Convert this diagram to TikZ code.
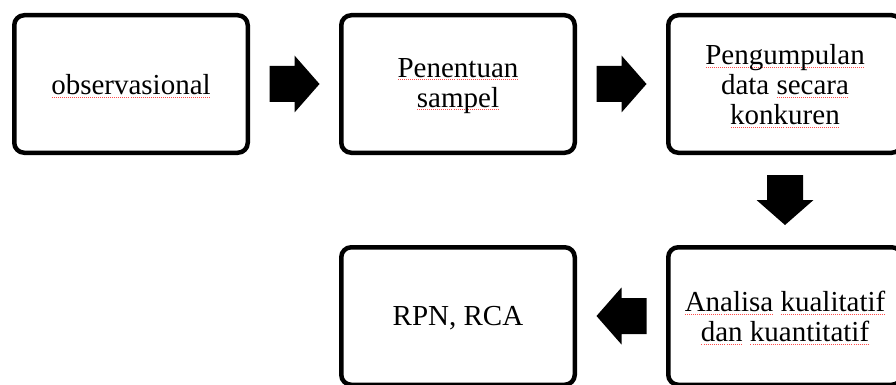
\documentclass[tikz,border=0pt]{standalone}
\usepackage{fontspec}
\setmainfont{Liberation Serif}
\usetikzlibrary{calc}
\newsavebox\sqbox
\newcommand\sqw[1]{\leavevmode\sbox\sqbox{#1}\rlap{\color{red!70}\raisebox{-2.6pt}{\hbox to\wd\sqbox{\xleaders\hbox to 2pt{\hss\rule{1pt}{0.6pt}\hss}\hfill}}}\usebox\sqbox}
\begin{document}
\begin{tikzpicture}[x=1pt,y=-1pt,
  stepbox/.style={draw=black,line width=4.5pt,rounded corners=10pt,fill=white,
    minimum width=233.5pt,minimum height=137.5pt,inner sep=0pt},
  steptext/.style={align=center,inner sep=0pt,yshift=-2pt,
    font=\fontsize{29}{30}\selectfont},
  barrow/.style={fill=black}]
\useasboundingbox (0,0) rectangle (896,385);
\node[stepbox] (b1) at (131,84) {};
\node[stepbox] (b2) at (458,84) {};
\node[stepbox] (b3) at (785,84) {};
\node[stepbox] (b4) at (785,316) {};
\node[stepbox] (b5) at (458,316) {};
\node[steptext] (t1) at (b1.center) {\sqw{observasional}};
\node[steptext] (t2) at (b2.center) {\sqw{Penentuan}\\\sqw{sampel}};
\node[steptext] (t3) at (b3.center) {\sqw{Pengumpulan}\\data \sqw{secara}\\\sqw{konkuren}};
\node[steptext] (t4) at (b4.center) {\sqw{Analisa} \sqw{kualitatif}\\\sqw{dan} \sqw{kuantitatif}};
\node[steptext] (t5) at (b5.center) {RPN, RCA};
\coordinate (a1) at ($(b1.east)!0.5!(b2.west)$);
\coordinate (a2) at ($(b2.east)!0.5!(b3.west)$);
\coordinate (a3) at ($(b3.south)!0.5!(b4.north)$);
\coordinate (a4) at ($(b4.west)!0.5!(b5.east)$);
\fill[barrow] (a1) ++(-25,-18) -- ++(25,0) -- ++(0,-10.5) -- ++(25,28.5) -- ++(-25,28.5) -- ++(0,-10.5) -- ++(-25,0) -- cycle;
\fill[barrow] (a2) ++(-25,-18) -- ++(25,0) -- ++(0,-10.5) -- ++(25,28.5) -- ++(-25,28.5) -- ++(0,-10.5) -- ++(-25,0) -- cycle;
\fill[barrow] (a3) ++(-18,-25) -- ++(0,25) -- ++(-10.5,0) -- ++(28.5,25) -- ++(28.5,-25) -- ++(-10.5,0) -- ++(0,-25) -- cycle;
\fill[barrow] (a4) ++(25,-18) -- ++(-25,0) -- ++(0,-10.5) -- ++(-25,28.5) -- ++(25,28.5) -- ++(0,-10.5) -- ++(25,0) -- cycle;
\end{tikzpicture}
\end{document}
